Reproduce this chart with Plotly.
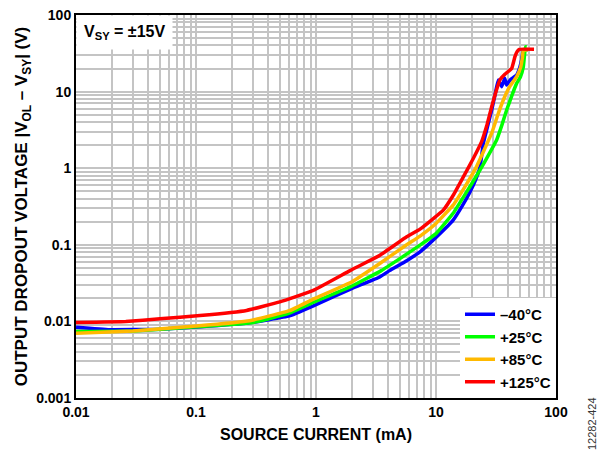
import plotly.graph_objects as go

# Source current (mA) and dropout voltage (V) per temperature
x_m40 = [0.01, 0.019, 0.05, 0.108, 0.27, 0.6, 0.96, 2.0, 3.4, 4.1, 5.7, 7.36, 10.0, 13.9, 16.5, 19.2, 21.5, 23.3, 24.8, 27.0, 29.1, 31.0, 33.0, 35.3, 37.4, 38.7, 41.5, 44.0, 47.0, 50.0, 52.0, 53.4, 58.0]
y_m40 = [0.0084, 0.0078, 0.0079, 0.0085, 0.0095, 0.0118, 0.0161, 0.027, 0.038, 0.046, 0.062, 0.081, 0.125, 0.21, 0.32, 0.49, 0.72, 1.05, 2.11, 3.6, 5.75, 9.0, 14.2, 11.6, 14.9, 12.2, 14.2, 15.2, 16.5, 21.0, 27.0, 34.9, 34.9]

x_p25 = [0.01, 0.03, 0.1, 0.3, 0.6, 0.96, 2.0, 3.5, 5.0, 7.36, 10.0, 13.9, 18.0, 20.5, 23.3, 27.5, 32.0, 35.5, 38.8, 43.0, 47.0, 50.5, 53.4, 55.2, 56.0, 57.0]
y_p25 = [0.0074, 0.0075, 0.0085, 0.0097, 0.0128, 0.0178, 0.029, 0.046, 0.066, 0.099, 0.14, 0.258, 0.49, 0.68, 0.95, 1.5, 2.33, 3.7, 5.75, 9.0, 12.8, 15.5, 21.0, 34.9, 38.6, 38.6]

x_p85 = [0.01, 0.03, 0.1, 0.28, 0.6, 0.96, 2.0, 3.4, 5.7, 7.36, 10.0, 13.9, 17.5, 21.8, 25.5, 29.1, 32.5, 36.4, 41.0, 47.0, 50.8, 52.5, 53.4, 58.4]
y_p85 = [0.0070, 0.0075, 0.0087, 0.0102, 0.0138, 0.0197, 0.033, 0.057, 0.1, 0.13, 0.19, 0.33, 0.58, 1.05, 1.8, 2.86, 4.8, 7.76, 11.5, 15.7, 21.0, 28.0, 34.9, 34.9]

x_p125 = [0.01, 0.026, 0.05, 0.108, 0.264, 0.5, 0.95, 1.92, 3.41, 5.7, 7.36, 9.5, 11.5, 14.0, 16.9, 20.5, 24.0, 26.5, 29.1, 31.5, 34.1, 37.5, 42.7, 45.5, 47.5, 49.5, 65.6]
y_p125 = [0.0097, 0.0100, 0.0108, 0.0119, 0.0139, 0.018, 0.0254, 0.046, 0.073, 0.127, 0.16, 0.22, 0.284, 0.45, 0.77, 1.35, 2.22, 3.6, 6.35, 9.8, 14.2, 16.8, 20.0, 28.6, 33.5, 35.7, 35.7]

series_names = ["–40°C", "+25°C", "+85°C", "+125°C"]
series_colors = ["#0000ff", "#00ff00", "#ffb900", "#ff0000"]

x_tickvals = [0.01, 0.1, 1, 10, 100]
x_ticktext = ["0.01", "0.1", "1", "10", "100"]
y_tickvals = [0.001, 0.01, 0.1, 1, 10, 100]
y_ticktext = ["0.001", "0.01", "0.1", "1", "10", "100"]

FONT = "Liberation Sans, Arial, sans-serif"

fig = go.Figure()
for xs, ys, name, col in zip([x_m40, x_p25, x_p85, x_p125], [y_m40, y_p25, y_p85, y_p125], series_names, series_colors):
    fig.add_trace(go.Scatter(x=xs, y=ys, mode="lines", name="<b>" + name + "</b>",
                             line=dict(color=col, width=3.5, shape="spline", smoothing=0.3)))

axis_common = dict(
    type="log", showline=True, linecolor="black", linewidth=2, mirror=True,
    showgrid=True, gridcolor="#c4c4c4", gridwidth=1.5, ticks="",
    tickfont=dict(family=FONT, size=14, color="black"),
    zeroline=False, automargin=False,
    minor=dict(showgrid=True, gridcolor="#c4c4c4", gridwidth=1.5, dtick="D1", ticks=""),
)

fig.update_xaxes(**axis_common, range=[-2, 2], tickvals=x_tickvals,
                 ticktext=["<b>" + t + "</b>" for t in x_ticktext],
                 title=dict(text="<b>SOURCE CURRENT (mA)</b>", font=dict(family=FONT, size=16, color="black"), standoff=10))
fig.update_yaxes(**axis_common, range=[-3, 2], tickvals=y_tickvals,
                 ticktext=["<b>" + t + "</b>" for t in y_ticktext],
                 title=dict(text="<b>OUTPUT DROPOUT VOLTAGE |V<sub>OL</sub> – V<sub>SY</sub>| (V)</b>",
                            font=dict(family=FONT, size=17, color="black"), standoff=4))

fig.update_layout(
    width=605, height=452,
    margin=dict(l=76, r=49, t=15, b=54),
    plot_bgcolor="white", paper_bgcolor="white",
    font=dict(family=FONT, size=14, color="black"),
    legend=dict(x=1, y=0, xanchor="right", yanchor="bottom", bgcolor="white",
                borderwidth=0, font=dict(family=FONT, size=15, color="black"),
                tracegroupgap=0, itemwidth=30),
    annotations=[
        dict(text="<b>V<sub>SY</sub> = ±15V</b>", xref="paper", yref="paper", x=0.0, y=1.0,
             xanchor="left", yanchor="top", showarrow=False, bgcolor="white",
             borderpad=7, font=dict(family=FONT, size=16, color="black")),
        dict(text="12282-424", xref="paper", yref="paper", x=1.075, y=-0.068, xanchor="center", yanchor="middle",
             textangle=-90, showarrow=False, font=dict(family=FONT, size=11, color="#333333")),
    ],
)

fig.write_html("out.html", config={"displayModeBar": False},
               post_script="document.body.style.margin='0';document.body.style.overflow='hidden';")
